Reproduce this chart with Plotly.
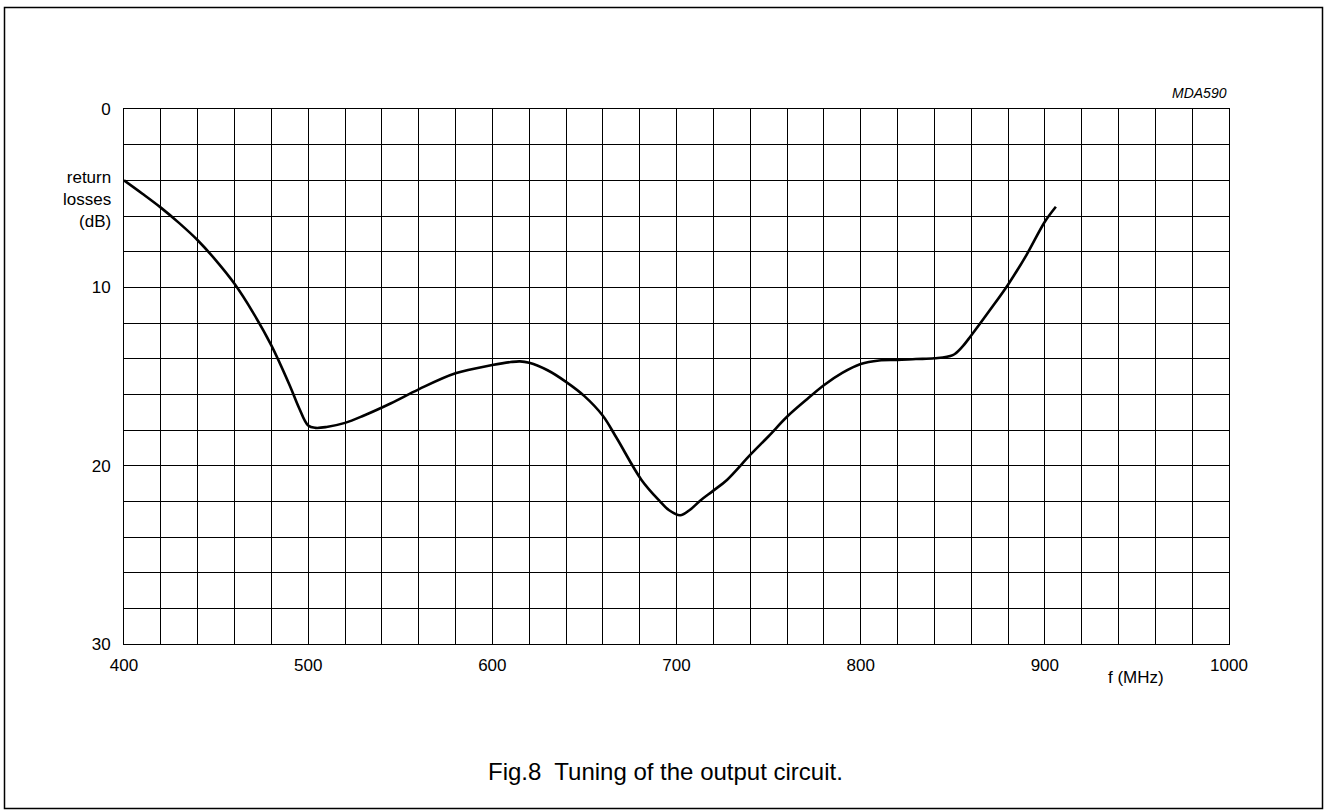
import plotly.graph_objects as go

freq_mhz = [400, 410, 420, 430, 440, 450, 460, 470, 480, 490, 495, 500, 504, 510, 520, 530, 545,
            560, 580, 600, 610, 615, 620, 630, 640, 650, 660, 667.5, 681, 691, 696, 702, 707, 713,
            720, 727.4, 740, 750, 760, 770, 780, 790, 800, 810, 820, 830, 840, 850, 855, 860, 870,
            880, 890, 900, 906]
return_loss_db = [4.0, 4.75, 5.53, 6.4, 7.36, 8.5, 9.8, 11.4, 13.25, 15.5, 16.75, 17.75, 17.88, 17.83,
                  17.6, 17.2, 16.5, 15.72, 14.82, 14.36, 14.19, 14.15, 14.23, 14.65, 15.3, 16.1, 17.2,
                  18.45, 20.8, 22.0, 22.5, 22.78, 22.5, 21.95, 21.4, 20.8, 19.4, 18.35, 17.26, 16.35,
                  15.49, 14.8, 14.3, 14.1, 14.07, 14.02, 13.98, 13.8, 13.35, 12.7, 11.3, 9.85, 8.19,
                  6.32, 5.48]

x_ticks = [400, 500, 600, 700, 800, 900, 1000]
y_ticks = [0, 10, 20, 30]

FONT = "Liberation Sans, Arial, sans-serif"

fig = go.Figure()
fig.add_trace(go.Scatter(x=freq_mhz, y=return_loss_db, mode="lines",
                         line=dict(color="black", width=2.6, shape="spline", smoothing=1.0,
                                   simplify=False),
                         hoverinfo="skip", showlegend=False))

W, H = 1326, 812
L, R, T, B = 124, 1229, 109, 644
pw, ph = R - L, B - T

def px(xp):
    return (xp - L) / pw

def py(yp):
    return (B - yp) / ph

fig.update_layout(
    width=W, height=H,
    margin=dict(l=L, r=W - R, t=T, b=H - B),
    paper_bgcolor="white", plot_bgcolor="white",
    font=dict(family=FONT, size=17, color="black"),
    xaxis=dict(range=[400, 1000], tickvals=x_ticks, showgrid=True, gridcolor="black", gridwidth=1,
               minor=dict(dtick=20, showgrid=True, gridcolor="black", gridwidth=1, tick0=400),
               showline=True, linecolor="black", linewidth=1, mirror=True,
               ticks="", ticklabelstandoff=6, zeroline=False, tickfont=dict(size=17)),
    yaxis=dict(range=[30, 0], tickvals=y_ticks, showgrid=True, gridcolor="black", gridwidth=1,
               minor=dict(dtick=2, showgrid=True, gridcolor="black", gridwidth=1, tick0=0),
               showline=True, linecolor="black", linewidth=1, mirror=True,
               ticks="", ticklabelstandoff=9, zeroline=False, tickfont=dict(size=17)),
    shapes=[dict(type="rect", xref="paper", yref="paper",
                 x0=px(4.5), x1=px(1322.5), y0=py(808.5), y1=py(7.5),
                 line=dict(color="black", width=1.5), fillcolor="rgba(0,0,0,0)", layer="below")],
    annotations=[
        dict(text="return<br>losses<br>(dB)", xref="paper", yref="paper", x=px(113), y=py(199),
             xanchor="right", yanchor="middle", align="right", showarrow=False,
             font=dict(size=17)),
        dict(text="f (MHz)", xref="paper", yref="paper", x=px(1136), y=py(677),
             xanchor="center", yanchor="middle", showarrow=False, font=dict(size=17)),
        dict(text="<i>MDA590</i>", xref="paper", yref="paper", x=px(1229), y=py(93),
             xanchor="right", yanchor="middle", showarrow=False, font=dict(size=14)),
        dict(text="Fig.8  Tuning of the output circuit.", xref="paper", yref="paper",
             x=px(665), y=py(771), xanchor="center", yanchor="middle", showarrow=False,
             font=dict(size=24)),
    ],
)

fig.write_html("out.html", config={"displayModeBar": False},
               post_script="document.body.style.margin='0';document.body.style.overflow='hidden';")
